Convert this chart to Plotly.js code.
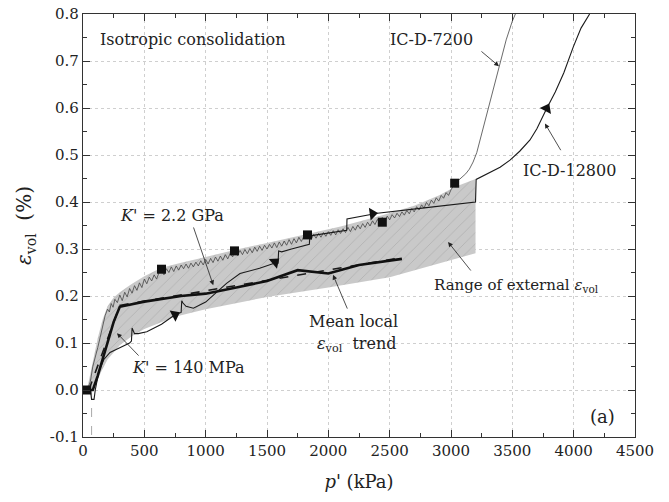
<!DOCTYPE html>
<html><head><meta charset="utf-8">
<script src="https://cdn.plot.ly/plotly-3.0.1.min.js"></script>
<style>html,body{margin:0;padding:0;background:#fff}</style>
</head><body><div id="c" style="width:669px;height:502px"></div>
<script>
// Range of external eps_vol (shaded band)
const bandHiP = [0,40,80,120,160,200,250,300,400,500,640,800,1000,1235,1500,1830,2100,2440,2700,2900,3030,3200];
const bandHiE = [0,0.01,0.06,0.11,0.15,0.178,0.197,0.208,0.226,0.242,0.26,0.271,0.283,0.298,0.313,0.333,0.348,0.372,0.392,0.414,0.432,0.449];
const bandLoP = [0,60,100,150,200,300,400,500,750,1000,1500,2000,2500,3200];
const bandLoE = [0,0,0.01,0.04,0.065,0.095,0.115,0.13,0.156,0.172,0.198,0.218,0.24,0.291];

// External measurement IC-D-7200 (thin noisy line), in segments
const ext7200P_a = [0,20,40,60,80,100,120,140,160,180,200,215,230,245,260,280];
const ext7200E_a = [0,0.0,0.004,0.018,0.05,0.068,0.09,0.112,0.138,0.158,0.172,0.166,0.184,0.176,0.193,0.186];
const ext7200P_b = [300,320,340,360,380,400,420,440,460,480,500,520,540,560,580,600,620,640,660,680,700,720,740,760,780,800,820,840,860,880,900,920,940,960,980,1000,1020,1040,1060,1080,1100,1120,1140,1160,1180,1200,1220,1235];
const ext7200E_b = [0.202,0.19,0.208,0.198,0.216,0.206,0.222,0.212,0.228,0.218,0.236,0.226,0.24,0.232,0.245,0.236,0.25,0.256,0.245,0.258,0.25,0.262,0.252,0.264,0.255,0.266,0.258,0.268,0.259,0.27,0.262,0.272,0.264,0.275,0.266,0.278,0.268,0.28,0.271,0.283,0.274,0.285,0.276,0.288,0.279,0.291,0.283,0.295];
const ext7200P_c = [1260,1280,1300,1320,1340,1360,1380,1400,1420,1440,1460,1480,1500,1520,1540,1560,1580,1600,1620,1640,1660,1680,1700,1720,1740,1760,1780,1800,1830,1860,1880];
const ext7200E_c = [0.286,0.297,0.288,0.299,0.29,0.301,0.292,0.304,0.295,0.306,0.297,0.308,0.3,0.31,0.302,0.313,0.303,0.315,0.306,0.317,0.308,0.32,0.31,0.322,0.313,0.325,0.316,0.327,0.329,0.32,0.331];
const ext7200P_d = [1900,1920,1940,1960,1980,2000,2020,2040,2060,2080,2100,2120,2140,2160,2180,2200,2220,2240,2260,2280,2300,2320,2340,2360,2380,2400,2420,2440,2460,2480,2500,2520,2540,2560,2580,2600,2620,2640,2660,2680,2700,2720,2740,2760,2780,2800,2820,2840,2860,2880,2900,2920,2940,2960,2980,3000];
const ext7200E_d = [0.323,0.333,0.325,0.335,0.327,0.337,0.329,0.339,0.33,0.341,0.333,0.343,0.335,0.346,0.337,0.348,0.34,0.351,0.343,0.354,0.346,0.357,0.349,0.36,0.352,0.363,0.355,0.367,0.359,0.37,0.362,0.373,0.366,0.376,0.369,0.379,0.372,0.382,0.375,0.386,0.379,0.39,0.383,0.394,0.387,0.399,0.392,0.404,0.397,0.409,0.402,0.414,0.408,0.42,0.414,0.426];
const ext7200P_e = [3030,3060,3090,3120,3150,3180,3210,3250,3300,3350,3400,3450,3500,3525];
const ext7200E_e = [0.438,0.446,0.452,0.46,0.47,0.485,0.505,0.545,0.595,0.645,0.695,0.745,0.785,0.8];

// External measurement IC-D-12800 (medium line with arrows)
const ext12800P = [0,30,60,70,90,100,130,170,220,300,380,395,400,420,450,520,640,750,800,805,815,840,900,1000,1090,1170,1280,1440,1565,1590,1595,1620,1700,1800,1845,1850,1900,2000,2100,2150,2152,2400,2800,3200,3205,3300,3400,3481,3560,3644,3700,3780,3850,3920,3997,4060,4130];
const ext12800E = [0,0,0,-0.02,-0.02,0.0,0.04,0.065,0.08,0.09,0.1,0.104,0.132,0.12,0.12,0.124,0.14,0.16,0.165,0.19,0.185,0.178,0.174,0.187,0.209,0.227,0.248,0.259,0.27,0.27,0.296,0.294,0.3,0.306,0.31,0.328,0.33,0.335,0.338,0.34,0.364,0.376,0.388,0.4,0.448,0.46,0.474,0.489,0.508,0.532,0.556,0.599,0.634,0.675,0.73,0.77,0.8];
const arrowP = [750,1565,2360,3780];
const arrowE = [0.16,0.272,0.375,0.599];
const arrowAng = [-27,-40,-8,-62];

// Square markers
const sqP = [30,640,1235,1830,2440,3030];
const sqE = [0,0.257,0.296,0.33,0.357,0.44];

// Mean local eps_vol trend (thick) and K' fits (dashed)
const meanP = [40,80,120,170,200,250,300,500,800,1000,1250,1500,1750,2000,2250,2600];
const meanE = [0,0.0,0.03,0.075,0.1,0.145,0.177,0.188,0.2,0.205,0.218,0.232,0.255,0.248,0.266,0.279];
const fitP = [48,300,2600];
const fitE = [0,0.18,0.282];

const vlineP = [70,70];
const vlineE = [0,-0.1];

const xTicks = [0,500,1000,1500,2000,2500,3000,3500,4000,4500];
const xTickText = ['0','500','1000','1500','2000','2500','3000','3500','4000','4500'];
const yTicks = [-0.1,0,0.1,0.2,0.3,0.4,0.5,0.6,0.7,0.8];
const yTickText = ['-0.1','0.0','0.1','0.2','0.3','0.4','0.5','0.6','0.7','0.8'];

const F = 'DejaVu Serif';
const ext7200P = ext7200P_a.concat(ext7200P_b, ext7200P_c, ext7200P_d, ext7200P_e);
const ext7200E = ext7200E_a.concat(ext7200E_b, ext7200E_c, ext7200E_d, ext7200E_e);
const bandP = bandHiP.concat(bandLoP.slice().reverse());
const bandE = bandHiE.concat(bandLoE.slice().reverse());

const traces = [
 {x:bandP,y:bandE,mode:'lines',fill:'toself',fillcolor:'#c9c9c9',line:{width:0,color:'rgba(0,0,0,0)'},
  fillpattern:{shape:'/',bgcolor:'#c9c9c9',fgcolor:'#b0b0b0',size:8,solidity:0.1},hoverinfo:'skip'},
 {x:vlineP,y:vlineE,mode:'lines',line:{color:'#aaa',width:1,dash:'dash'}},
 {x:ext7200P,y:ext7200E,mode:'lines',line:{color:'#444',width:0.8}},
 {x:ext12800P,y:ext12800E,mode:'lines',line:{color:'#1a1a1a',width:1.1}},
 {x:fitP,y:fitE,mode:'lines',line:{color:'#1a1a1a',width:1.6,dash:'dash'}},
 {x:meanP,y:meanE,mode:'lines',line:{color:'#111',width:2.6}},
 {x:arrowP,y:arrowE,mode:'markers',marker:{symbol:'triangle-right',size:11,color:'#111',angle:arrowAng}},
 {x:sqP,y:sqE,mode:'markers',marker:{symbol:'square',size:9,color:'#111'}}
];

const ann = [];
function txt(x,y,t,opt){ann.push(Object.assign({x:x,y:y,text:t,showarrow:false,font:{family:F,size:16,color:'#222'}},opt||{}));}
function arr(x,y,ax,ay){ann.push({x:x,y:y,ax:ax,ay:ay,axref:'x',ayref:'y',text:'',showarrow:true,arrowhead:2,arrowsize:1.2,arrowwidth:0.8,arrowcolor:'#222'});}
txt(122,0.745,'Isotropic consolidation',{xanchor:'left'});
txt(2837,0.745,'IC-D-7200');
txt(3970,0.468,'IC-D-12800');
txt(726,0.372,"<i>K</i>' = 2.2 GPa");
txt(856,0.047,"<i>K</i>' = 140 MPa");
txt(2209,0.145,'Mean local');
txt(2234,0.096,'<i>ε</i><sub>vol</sub>  trend');
txt(3538,0.223,'Range of external <i>ε</i><sub>vol</sub>',{font:{family:F,size:15,color:'#222'}});
txt(4239,-0.057,'(a)',{font:{family:F,size:18,color:'#222'}});
arr(3391,0.689,3236,0.723);
arr(3766,0.567,3902,0.507);
arr(1062,0.223,897,0.349);
arr(277,0.121,465,0.070);
arr(2038,0.245,2160,0.170);
arr(2976,0.315,3171,0.251);

const axCommon = {showline:true,linecolor:'#333',linewidth:1.2,mirror:'ticks',ticks:'inside',ticklen:7,tickwidth:1,tickcolor:'#333',
  showgrid:true,gridcolor:'#cfcfcf',griddash:'dot',gridwidth:1,zeroline:false,tickfont:{family:F,size:15,color:'#222'},tickmode:'array'};

const layout = {
 width:669,height:502,margin:{l:83,r:34,t:14,b:65},paper_bgcolor:'#fff',plot_bgcolor:'#fff',showlegend:false,
 font:{family:F},
 xaxis:Object.assign({},axCommon,{range:[0,4500],tickvals:xTicks,ticktext:xTickText,
   minor:{dtick:250,tick0:0,ticks:'inside',ticklen:4,tickcolor:'#333',showgrid:false},
   title:{text:"<i>p</i>' (kPa)",font:{family:F,size:18,color:'#222'},standoff:16}}),
 yaxis:Object.assign({},axCommon,{range:[-0.1,0.8],tickvals:yTicks,ticktext:yTickText,
   minor:{dtick:0.05,tick0:0,ticks:'inside',ticklen:4,tickcolor:'#333',showgrid:false},
   title:{text:'<i>ε</i><sub>vol</sub>  (%)',font:{family:F,size:20,color:'#222'},standoff:12}}),
 annotations:ann
};
Plotly.newPlot('c',traces,layout,{displayModeBar:false,staticPlot:true});
</script></body></html>
